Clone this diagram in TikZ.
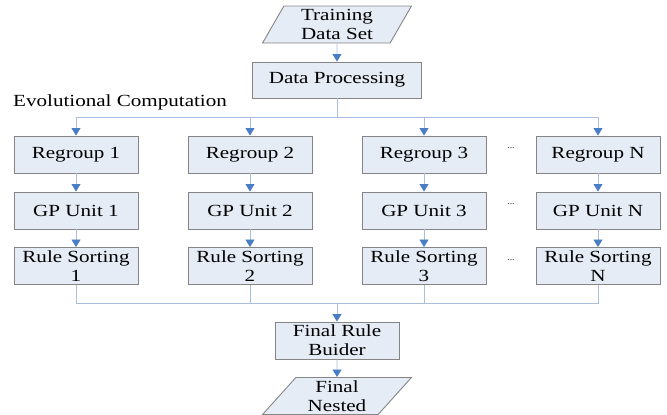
\documentclass[tikz,border=0pt]{standalone}
\usepackage{fontspec}
\setmainfont{Liberation Serif}[FakeStretch=1.24]
\usetikzlibrary{arrows.meta,shapes.geometric}
\definecolor{boxfill}{HTML}{E6ECF6}
\definecolor{boxline}{HTML}{858585}
\definecolor{wirecol}{HTML}{A8C0DE}
\definecolor{tipblue}{HTML}{4A7EC4}
\begin{document}
\begin{tikzpicture}[x=1pt,y=-1pt,
    every node/.style={font=\fontsize{17}{19}\selectfont},
    stage/.style={draw=boxline,fill=boxfill,line width=0.9pt,minimum width=124pt,
      minimum height=37pt,inner sep=0.5pt,align=center},
    io/.style={stage,trapezium,trapezium stretches=true,minimum width=149pt},
    wire/.style={draw=wirecol,line width=0.8pt},
    feed/.style={wire,-{Triangle[width=9pt,length=7.5pt,color=tipblue]}},
    gap/.style={font=\fontsize{8}{8}\selectfont}]
  \useasboundingbox (0,0) rectangle (667,415);
  \node[io,trapezium left angle=65,trapezium right angle=115] (train) at (337,24.5) {Training\\Data Set};
  \node[stage,minimum width=169pt,minimum height=36pt] (proc) at (337,80) {Data Processing};
  \node[anchor=base west,inner sep=0pt] (evo) at (13,106) {Evolutional Computation};
  \coordinate (split) at (337,117);
  \foreach \c/\x in {1/76,2/250,3/424,N/598}{
    \node[stage] (reg\c) at (\x,154.5) {Regroup \c};
    \node[stage] (gp\c) at (\x,210.5) {GP Unit \c};
    \node[stage] (sort\c) at (\x,266) {Rule Sorting\\\c};
  }
  \node[gap] (dots1) at (511,148) {...};
  \node[gap] (dots2) at (511,204) {...};
  \node[gap] (dots3) at (511,260) {...};
  \coordinate (merge) at (337,303);
  \node[stage] (build) at (337,340.5) {Final Rule\\Buider};
  \node[io,trapezium left angle=53,trapezium right angle=127] (nest) at (337,396) {Final\\Nested};
  % links
  \draw[feed] (train) -- (proc);
  \draw[wire] (proc) -- (split);
  \foreach \c in {1,2,3,N}{
    \draw[feed] (split) -| (reg\c);
    \draw[feed] (reg\c) -- (gp\c);
    \draw[feed] (gp\c) -- (sort\c);
    \draw[wire] (sort\c) |- (merge);
  }
  \draw[feed] (merge) -- (build);
  \draw[feed] (build) -- (nest);
\end{tikzpicture}
\end{document}
